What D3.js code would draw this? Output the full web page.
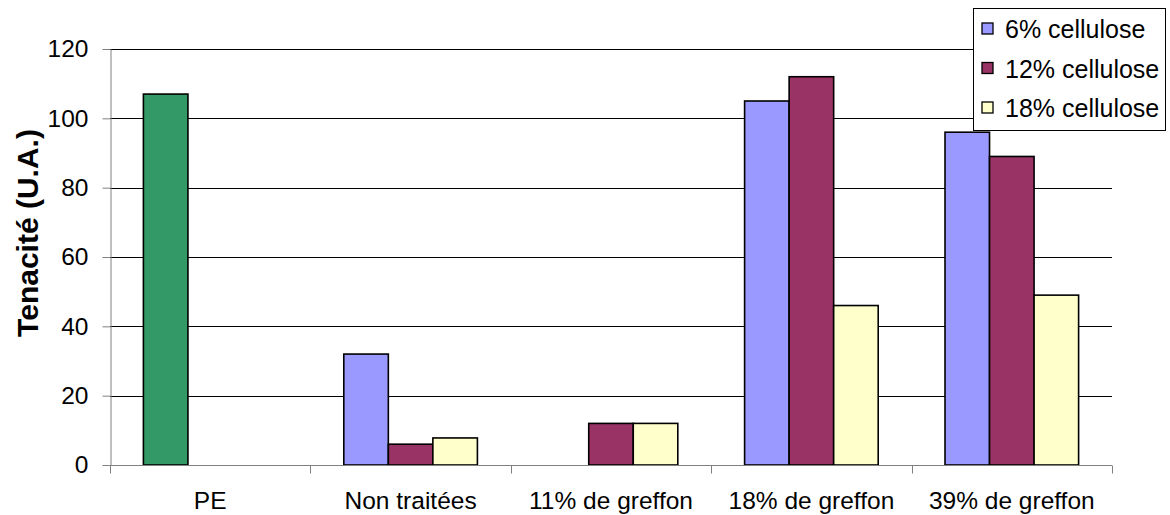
<!DOCTYPE html>
<html>
<head>
<meta charset="utf-8">
<script src="https://cdn.jsdelivr.net/npm/d3@7"></script>
<style>
  html, body { margin: 0; padding: 0; background: #fff; }
  svg { display: block; font-family: "Liberation Sans", Arial, sans-serif; }
</style>
</head>
<body>
<svg id="chart" width="1170" height="515"></svg>
<script>
// Tenacity of PE and PE/cellulose composites
const categories = ["PE", "Non traitées", "11% de greffon", "18% de greffon", "39% de greffon"];
const seriesNames = ["6% cellulose", "12% cellulose", "18% cellulose"];
const cellulose6  = [null, 32, null, 105, 96];
const cellulose12 = [null, 6, 12, 112, 89];
const cellulose18 = [null, 7.8, 12, 46, 49];
const peValue = [107, null, null, null, null];
const yTicks = [0, 20, 40, 60, 80, 100, 120];
const yLabel = "Tenacité (U.A.)";

const seriesColors = ["#9999FF", "#993366", "#FFFFCC"];
const peColor = "#339966";

const svg = d3.select("#chart");
const plot = { left: 110, right: 1112, top: 49, bottom: 465 };

const x = d3.scaleBand().domain(categories).range([plot.left, plot.right]).paddingInner(0).paddingOuter(0);
const bw = x.bandwidth();
const x1 = d3.scaleBand().domain([0, 1, 2]).range([bw / 6, bw * 5 / 6]).padding(0);
const y = d3.scaleLinear().domain([0, 120]).range([plot.bottom, plot.top]);

// gridlines
svg.append("g")
  .selectAll("line")
  .data(yTicks.filter(d => d > 0))
  .join("line")
  .attr("x1", plot.left).attr("x2", plot.right)
  .attr("y1", d => Math.round(y(d)) + 0.5).attr("y2", d => Math.round(y(d)) + 0.5)
  .attr("stroke", "#000").attr("stroke-width", 1);

// bars
const rows = [];
categories.forEach((c, i) => {
  if (peValue[i] != null) rows.push({ cat: c, slot: 0, v: peValue[i], color: peColor });
  [cellulose6, cellulose12, cellulose18].forEach((s, k) => {
    if (s[i] != null) rows.push({ cat: c, slot: k, v: s[i], color: seriesColors[k] });
  });
});
svg.append("g")
  .selectAll("rect")
  .data(rows)
  .join("rect")
  .attr("x", d => x(d.cat) + x1(d.slot))
  .attr("width", x1.bandwidth())
  .attr("y", d => y(d.v))
  .attr("height", d => y(0) - y(d.v))
  .attr("fill", d => d.color)
  .attr("stroke", "#000")
  .attr("stroke-width", 1.6);

// y axis
const yAxis = svg.append("g")
  .attr("transform", `translate(${plot.left + 0.5},0)`)
  .call(d3.axisLeft(y).tickValues(yTicks).tickSize(8).tickPadding(14).tickSizeOuter(0));
yAxis.select(".domain").attr("stroke", "#808080");
yAxis.selectAll(".tick line").attr("stroke", "#808080");
yAxis.selectAll("text").attr("font-size", 24.5).attr("fill", "#000").attr("font-family", "Liberation Sans, Arial, sans-serif");

// x axis: labels centred in bands, ticks on band boundaries
const xAxis = svg.append("g")
  .attr("transform", `translate(0,${plot.bottom + 0.5})`)
  .call(d3.axisBottom(x).tickSize(0).tickPadding(26).tickSizeOuter(0));
xAxis.select(".domain").attr("stroke", "#808080").attr("d", `M${plot.left},0H${plot.right}`);
xAxis.selectAll("text").attr("font-size", 24.5).attr("fill", "#000").attr("font-family", "Liberation Sans, Arial, sans-serif");
const bounds = categories.map(c => x(c)).concat([plot.right]);
xAxis.append("g").selectAll("line")
  .data(bounds)
  .join("line")
  .attr("x1", d => Math.round(d) + 0.5).attr("x2", d => Math.round(d) + 0.5)
  .attr("y1", 0).attr("y2", 8)
  .attr("stroke", "#808080");

// y axis title
svg.append("text")
  .attr("transform", `translate(38,233) rotate(-90)`)
  .attr("text-anchor", "middle")
  .attr("font-size", 30)
  .attr("font-weight", "bold")
  .text(yLabel);

// legend
const legend = svg.append("g").attr("transform", "translate(973,8)");
legend.append("rect")
  .attr("x", 0.5).attr("y", 0.5).attr("width", 192).attr("height", 122)
  .attr("fill", "#fff").attr("stroke", "#000").attr("stroke-width", 1);
const items = legend.selectAll("g.item")
  .data(seriesNames)
  .join("g")
  .attr("class", "item")
  .attr("transform", (d, i) => `translate(0,${21 + i * 39.5})`);
items.append("rect")
  .attr("x", 9).attr("y", -6).attr("width", 11).attr("height", 11)
  .attr("fill", (d, i) => seriesColors[i])
  .attr("stroke", "#000").attr("stroke-width", 1.3);
items.append("text")
  .attr("x", 32).attr("y", 9)
  .attr("font-size", 25)
  .text(d => d);
</script>
</body>
</html>
